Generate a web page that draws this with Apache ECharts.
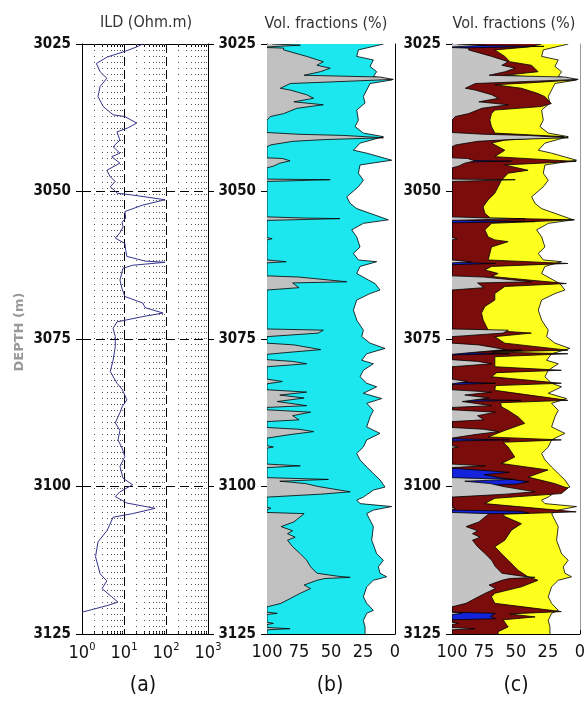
<!DOCTYPE html>
<html>
<head>
<meta charset="utf-8">
<script src="https://cdn.jsdelivr.net/npm/echarts@6/dist/echarts.min.js"></script>
<style>
html, body { margin: 0; padding: 0; background: #fff; }
#chart { width: 588px; height: 703px; }
</style>
</head>
<body>
<div id="chart"></div>
<script>
// depth axis (m)
const depthTicks = [3025, 3050, 3075, 3100, 3125];

// ILD log: [depth, ohm.m]
const ildCurve = [
  [3025.0, 28], [3025.5, 20], [3026.3, 10], [3027.2, 4], [3028.3, 2.2], [3029.7, 2.7], [3030.8, 3.9],
  [3032.2, 2.7], [3033.9, 2.4], [3035.6, 3.2], [3037.0, 5.5], [3037.3, 10.5], [3038.4, 20], [3039.2, 12.6],
  [3039.9, 6.8], [3041.3, 8], [3042.4, 5.5], [3043.5, 8], [3044.1, 5.1], [3045.2, 8], [3046.4, 3.9],
  [3047.5, 4.7], [3048.3, 6.2], [3049.2, 4.7], [3050.3, 7], [3050.6, 16], [3051.4, 95], [3052.3, 28],
  [3053.4, 10.5], [3054.5, 11], [3055.2, 9], [3056.0, 9.5], [3057.0, 8], [3057.9, 6.2], [3058.8, 10.5],
  [3060.0, 11], [3061.0, 11.7], [3061.8, 32], [3062.0, 95], [3062.5, 16], [3063.0, 9.5], [3065.0, 8],
  [3066.5, 9], [3067.8, 10.5], [3068.9, 28], [3069.7, 32], [3070.6, 85], [3071.2, 28], [3072.1, 6.8],
  [3073.2, 5.5], [3074.6, 6.2], [3076.3, 6.2], [3078.6, 5.5], [3080.5, 4.7], [3082.5, 6.8], [3083.5, 9],
  [3085.3, 11.7], [3086.5, 9], [3087.5, 8], [3089.2, 6.2], [3090.5, 8], [3092.1, 7.2], [3093.5, 9],
  [3094.9, 10.5], [3096.6, 8], [3098.6, 9.5], [3099.7, 16], [3100.9, 8], [3101.7, 6.2], [3102.8, 11.7],
  [3103.7, 55], [3104.6, 16], [3105.2, 5.5], [3107.4, 4], [3109.4, 2.4], [3111.9, 2.1], [3114.8, 2.7],
  [3116.0, 3.9], [3117.3, 3], [3119.6, 7.2], [3120.2, 3.9], [3121.3, 1]
];

// log decades and minor steps for the dotted background lines
const ildDecades = [1, 10, 100];
const ildSteps = [2, 3, 4, 5, 6, 7, 8, 9];

// volume fraction boundaries, [depth, % on the reversed axis]
// right edge of the matrix (porosity boundary)
const poroEdge = [
  [3025.0, 9], [3026.0, 28.6], [3027.1, 29.9], [3027.7, 16.9], [3028.8, 19.5], [3029.7, 14.3], [3030.5, 16.9],
  [3031.1, 2.6], [3031.7, 19.5], [3032.8, 22.1], [3033.9, 24.7], [3035.0, 23.4], [3036.2, 29.9], [3037.9, 28.6],
  [3039.0, 31.2], [3040.1, 24.7], [3040.7, 9.1], [3041.8, 27.3], [3043.0, 32.5], [3043.5, 22.1], [3044.7, 2.6],
  [3045.5, 27.3], [3046.9, 28.6], [3048.1, 24.7], [3049.2, 28.6], [3050.9, 37.7], [3052.0, 35.1], [3052.9, 29.9],
  [3053.7, 19.5], [3054.8, 5.2], [3055.4, 24.7], [3056.5, 33.8], [3057.7, 29.9], [3059.4, 27.3], [3060.5, 32.5],
  [3061.6, 28.6], [3061.9, 14.3], [3062.7, 27.3], [3063.9, 29.9], [3065.0, 20.8], [3065.6, 15.6], [3066.7, 11.7],
  [3067.3, 19.5], [3068.4, 29.9], [3070.1, 32.5], [3071.8, 29.9], [3073.5, 24.7], [3074.6, 26], [3075.7, 19.5],
  [3076.6, 7.8], [3077.5, 22.1], [3078.6, 26], [3079.2, 16.9], [3080.3, 24.7], [3081.4, 27.3], [3082.5, 22.1],
  [3083.1, 14.3], [3084.2, 24.7], [3085.1, 10.4], [3085.9, 22.1], [3087.1, 16.9], [3088.2, 19.5], [3089.9, 22.1],
  [3091.0, 11.7], [3092.1, 22.1], [3093.3, 24.7], [3094.4, 29.9], [3095.5, 27.3], [3096.7, 22.1], [3097.8, 16.9],
  [3098.9, 11.7], [3100.1, 7.8], [3100.6, 16.9], [3101.8, 24.7], [3102.3, 29.9], [3102.9, 27.3], [3103.4, 2.6],
  [3104.0, 16.9], [3104.6, 22.1], [3105.7, 19.5], [3106.8, 16.9], [3109.1, 18.2], [3111.4, 14.3], [3112.5, 9.1],
  [3113.6, 13], [3114.7, 11.7], [3115.3, 6.5], [3115.9, 16.9], [3117.0, 22.1], [3118.7, 24.7], [3119.8, 22.1],
  [3121.0, 16.9], [3121.5, 22.1], [3122.7, 24.7], [3123.8, 23.4], [3125.0, 23.4]
];

// right edge of the shale (grey) fraction
const grayEdge = [
  [3025.0, 96], [3025.2, 74], [3025.5, 100], [3025.6, 100], [3025.7, 87], [3026.0, 87], [3027.1, 69], [3028.0, 56],
  [3028.6, 61], [3029.1, 50.6], [3029.7, 58.4], [3030.3, 71], [3030.6, 11.7], [3031.0, 1.3], [3031.3, 35],
  [3031.7, 81.8], [3032.5, 89.6], [3032.8, 82], [3033.6, 69], [3034.2, 63.6], [3034.8, 79], [3035.3, 56],
  [3035.9, 76.6], [3036.8, 87], [3037.3, 97.4], [3037.9, 100], [3040.0, 100], [3040.3, 75], [3040.5, 40],
  [3040.9, 9], [3041.2, 55], [3041.5, 80], [3042.1, 97], [3042.4, 100], [3044.3, 100], [3044.4, 88], [3044.8, 82],
  [3045.2, 90], [3045.7, 95], [3046.0, 100], [3047.9, 100], [3048.0, 50.6], [3048.3, 100], [3054.3, 100],
  [3054.5, 70], [3054.6, 43], [3054.9, 100], [3057.8, 100], [3058.0, 96], [3058.2, 100], [3061.6, 100],
  [3061.9, 85], [3062.1, 100], [3064.3, 100], [3064.5, 75], [3065.3, 37.7], [3065.5, 80], [3066.3, 75],
  [3066.7, 100], [3073.3, 100], [3073.5, 56], [3074.0, 60], [3074.6, 100], [3075.7, 100], [3076.0, 79],
  [3076.8, 58], [3077.3, 85], [3077.6, 100], [3078.5, 100], [3078.8, 80], [3079.2, 69], [3079.7, 100],
  [3081.8, 100], [3082.2, 88], [3082.6, 100], [3083.6, 100], [3084.0, 69], [3084.5, 90], [3085.0, 71],
  [3085.6, 92], [3086.3, 69], [3086.6, 100], [3087.0, 100], [3087.4, 66], [3088.0, 80], [3088.7, 75],
  [3089.0, 100], [3090.0, 100], [3090.3, 75], [3090.7, 63.6], [3091.2, 82], [3091.8, 100], [3093.1, 100],
  [3093.3, 95], [3093.5, 100], [3096.2, 100], [3096.5, 74], [3096.8, 100], [3098.5, 100], [3098.8, 52],
  [3099.1, 90], [3099.5, 70], [3100.0, 60], [3100.9, 35], [3101.3, 58], [3101.8, 100], [3103.5, 100],
  [3103.7, 97], [3103.9, 100], [3104.4, 100], [3104.6, 71], [3106.0, 79], [3106.8, 89], [3107.5, 80],
  [3108.0, 84], [3108.6, 78], [3109.1, 84], [3110.2, 80], [3111.4, 74], [3112.5, 69], [3113.6, 66],
  [3114.7, 61], [3115.2, 45], [3115.4, 35], [3115.6, 55], [3115.9, 61], [3116.7, 71], [3117.3, 66],
  [3118.1, 74], [3119.0, 82], [3119.8, 89], [3120.4, 100], [3121.3, 100], [3121.5, 92], [3121.7, 100],
  [3123.0, 100], [3123.2, 95], [3123.4, 100], [3123.9, 100], [3124.1, 82], [3124.3, 100], [3125.0, 100]
];

// right edge of the dark red fraction (panel c)
const redEdge = [
  [3025.0, 30], [3025.5, 40], [3026.0, 66.5], [3027.1, 58.7], [3028.0, 54.8], [3028.6, 37.9], [3029.1, 35.3],
  [3029.7, 32.7], [3030.3, 58.7], [3030.8, 19.7], [3031.1, 4.2], [3031.6, 40.5], [3031.9, 66.5], [3032.5, 45.7],
  [3033.4, 32.7], [3033.9, 27.5], [3034.5, 24.9], [3035.1, 22.3], [3035.6, 30.1], [3036.2, 66.5], [3036.8, 69.1],
  [3037.9, 70.4], [3039.0, 69.1], [3040.1, 66.5], [3040.7, 12], [3041.3, 58.7], [3041.8, 69.1], [3043.0, 58.7],
  [3044.1, 66.5], [3044.9, 2.9], [3045.5, 58.7], [3046.4, 40.5], [3046.9, 56.1], [3048.1, 61.3], [3049.2, 63.9],
  [3050.3, 66.5], [3051.4, 71.7], [3052.6, 75.6], [3053.7, 74.3], [3054.5, 70], [3054.8, 4.2], [3055.4, 69],
  [3056.5, 74.3], [3057.7, 71.7], [3058.2, 66.5], [3058.5, 56.1], [3059.4, 69.1], [3060.5, 70.4], [3061.6, 71.7],
  [3062.2, 9.4], [3062.7, 69.1], [3063.3, 74.3], [3063.9, 63.9], [3064.4, 69.1], [3065.6, 10.6], [3066.1, 58.7],
  [3067.3, 66.5], [3068.4, 66.5], [3069.5, 74.3], [3070.6, 76.9], [3071.8, 75.6], [3073.5, 71.7], [3074.0, 37.9],
  [3074.6, 66.5], [3075.7, 58.7], [3076.9, 9.4], [3077.2, 69], [3077.5, 9.4], [3078.0, 66.5], [3079.7, 66.5],
  [3080.3, 14.5], [3080.7, 65], [3081.4, 69.1], [3082.5, 14.5], [3082.9, 66], [3083.7, 66.5], [3085.4, 9.4],
  [3085.8, 62], [3086.5, 61.3], [3087.1, 56.1], [3088.2, 48.3], [3089.3, 43.1], [3090.5, 58.7], [3091.6, 71.7],
  [3092.1, 14.5], [3092.5, 60], [3093.3, 56.1], [3095.0, 50.9], [3096.1, 61.3], [3097.2, 24.9], [3098.4, 40.5],
  [3099.5, 19.7], [3100.3, 9.4], [3101.2, 14.5], [3102.0, 66.5], [3102.9, 74.3], [3104.3, 2.9], [3104.7, 60],
  [3105.1, 58.7], [3106.3, 45.7], [3107.4, 53.5], [3109.1, 58.7], [3110.2, 66.5], [3111.4, 61.3], [3112.5, 56.1],
  [3114.2, 48.3], [3115.3, 40.5], [3115.9, 32.7], [3117.0, 45.7], [3118.1, 66.5], [3118.7, 69.1], [3119.8, 66.5],
  [3121.2, 14.5], [3121.6, 55], [3122.1, 35], [3122.6, 60], [3123.8, 56.1], [3124.6, 63.9], [3125.0, 63.9]
];

// right edge of the blue streaks (panel c), 100 = none
const blueEdge = [
  [3025.0, 100], [3025.2, 100], [3025.4, 28], [3025.7, 100], [3044.7, 100], [3044.85, 53], [3045.05, 100],
  [3054.9, 100], [3055.1, 35], [3055.3, 100], [3062.0, 100], [3062.2, 66], [3062.4, 100], [3076.7, 100],
  [3076.9, 45], [3077.1, 100], [3077.3, 100], [3077.5, 55], [3077.7, 100], [3082.3, 100], [3082.5, 66],
  [3082.7, 100], [3085.2, 100], [3085.4, 46], [3085.6, 100], [3091.9, 100], [3092.1, 55], [3092.3, 100],
  [3096.9, 100], [3097.2, 80], [3097.6, 55], [3098.0, 75], [3098.6, 60], [3099.2, 40], [3099.6, 50],
  [3100.0, 100], [3104.0, 100], [3104.2, 46], [3104.5, 40], [3104.7, 100], [3121.3, 100], [3121.5, 66],
  [3122.0, 70], [3122.4, 66], [3122.6, 100], [3125.0, 100]
];

const FONT = "'Liberation Sans Narrow', 'DejaVu Sans Condensed', sans-serif";

const chart = echarts.init(document.getElementById('chart'));

const ildMinor = [];
ildDecades.forEach(d => ildSteps.forEach(s => ildMinor.push(d * s)));

// depth axis for one track
const depthAxis = (g, pos, labels, color) => ({
  type: 'value', gridIndex: g, position: pos, inverse: true,
  min: depthTicks[0], max: depthTicks[depthTicks.length - 1], interval: 25,
  axisLine: { show: true, onZero: false, lineStyle: { color: color || '#000', width: 1 } },
  axisTick: { show: labels !== null, inside: false, length: 6, lineStyle: { color: '#000' } },
  axisLabel: {
    show: !!labels, margin: 11, fontFamily: FONT, fontSize: 15, fontWeight: 'bold', color: '#111',
    formatter: v => String(v)
  },
  splitLine: { show: false }
});

const fracAxis = g => ({
  type: 'value', gridIndex: g, position: 'bottom', inverse: true, min: 0, max: 100, interval: 25,
  axisLine: { onZero: false, lineStyle: { color: '#000' } },
  axisTick: { inside: true, length: 4, lineStyle: { color: '#000' } },
  axisLabel: { margin: 9, fontFamily: FONT, fontSize: 18, color: '#111' },
  splitLine: { show: false }
});

const supLabel = {
  formatter: v => '{b|10}{s|' + Math.round(Math.log10(v)) + '}',
  margin: 8,
  rich: {
    b: { fontFamily: FONT, fontSize: 18, color: '#111', lineHeight: 20, verticalAlign: 'bottom' },
    s: { fontFamily: FONT, fontSize: 11, color: '#111', lineHeight: 20, verticalAlign: 'top', padding: [0, 0, 8, 0] }
  }
};

// filled layer from 100 % to the given edge, with the edge outlined
const layer = (g, edge, fill) => ({
  type: 'custom', xAxisIndex: g, yAxisIndex: g === 1 ? 2 : g === 2 ? 4 : 0,
  data: edge.map(p => [p[1], p[0]]),
  clip: true, silent: true, animation: false,
  renderItem: (params, api) => {
    if (params.dataIndex !== 0) return null;
    const line = edge.map(p => api.coord([p[1], p[0]]));
    const poly = [api.coord([100, edge[0][0]])].concat(line, [api.coord([100, edge[edge.length - 1][0]])]);
    return {
      type: 'group',
      children: [
        { type: 'polygon', shape: { points: poly }, style: { fill: fill, stroke: null } },
        { type: 'polyline', shape: { points: line }, style: { fill: null, stroke: '#000', lineWidth: 0.8 } }
      ]
    };
  }
});

const option = {
  backgroundColor: '#fff',
  animation: false,
  grid: [
    { left: 82, top: 44, width: 126, height: 590 },
    { left: 267, top: 44, width: 128, height: 590 },
    { left: 452, top: 44, width: 128, height: 590 }
  ],
  xAxis: [
    {
      type: 'log', gridIndex: 0, position: 'bottom', min: 1, max: 1000, logBase: 10,
      axisLine: { onZero: false, lineStyle: { color: '#000' } },
      axisTick: { inside: true, length: 5, lineStyle: { color: '#000' } },
      minorTick: { show: true, splitNumber: 9, length: 3, lineStyle: { color: '#000' } },
      axisLabel: supLabel,
      splitLine: { show: true, lineStyle: { color: '#000', type: [9, 4], width: 1 } }
    },
    fracAxis(1),
    fracAxis(2),
    {
      type: 'log', gridIndex: 0, position: 'top', min: 1, max: 1000, logBase: 10,
      axisLine: { onZero: false, lineStyle: { color: '#000' } },
      axisTick: { inside: true, length: 5, lineStyle: { color: '#000' } },
      minorTick: { show: true, splitNumber: 9, length: 3, lineStyle: { color: '#000' } },
      axisLabel: { show: false },
      splitLine: { show: false }
    }
  ],
  yAxis: [
    Object.assign(depthAxis(0, 'left', true), {
      splitLine: { show: true, lineStyle: { color: '#000', type: [9, 5], width: 1 } }
    }),
    depthAxis(0, 'right', false),
    depthAxis(1, 'left', true),
    Object.assign(depthAxis(1, 'right', null), { axisTick: { show: false } }),
    depthAxis(2, 'left', true),
    Object.assign(depthAxis(2, 'right', null, '#999'), { axisTick: { show: false } })
  ],
  series: [
    {
      type: 'line', xAxisIndex: 0, yAxisIndex: 0,
      data: ildCurve.map(p => [p[1], p[0]]),
      showSymbol: false, silent: true,
      lineStyle: { color: '#34348c', width: 1 },
      markLine: {
        silent: true, symbol: ['none', 'none'], label: { show: false },
        lineStyle: { color: '#555', type: [1, 5], width: 1 },
        data: ildMinor.map(v => ({ xAxis: v }))
      }
    },
    // panel (b)
    layer(1, poroEdge, '#1ce6ee'),
    layer(1, grayEdge, '#c0c0c0'),
    // panel (c)
    layer(2, poroEdge, '#ffff1e'),
    layer(2, redEdge, '#7b0c0c'),
    layer(2, blueEdge, '#1424dc'),
    layer(2, grayEdge, '#c4c4c4')
  ],
  graphic: [
    { type: 'text', x: 146, y: 23, style: { text: 'ILD (Ohm.m)', font: '16px ' + FONT, fill: '#333', align: 'center', verticalAlign: 'middle' } },
    { type: 'text', x: 326, y: 24, style: { text: 'Vol. fractions (%)', font: '16px ' + FONT, fill: '#333', align: 'center', verticalAlign: 'middle' } },
    { type: 'text', x: 514, y: 24, style: { text: 'Vol. fractions (%)', font: '16px ' + FONT, fill: '#333', align: 'center', verticalAlign: 'middle' } },
    { type: 'text', x: 143, y: 686, style: { text: '(a)', font: '21px ' + FONT, fill: '#111', align: 'center', verticalAlign: 'middle' } },
    { type: 'text', x: 330, y: 686, style: { text: '(b)', font: '21px ' + FONT, fill: '#111', align: 'center', verticalAlign: 'middle' } },
    { type: 'text', x: 516, y: 686, style: { text: '(c)', font: '21px ' + FONT, fill: '#111', align: 'center', verticalAlign: 'middle' } },
    { type: 'text', x: 20, y: 332, rotation: Math.PI / 2, style: { text: 'DEPTH (m)', font: 'bold 13px ' + "'DejaVu Sans', sans-serif", fill: '#999', align: 'center', verticalAlign: 'middle' } }
  ]
};

chart.setOption(option);
window.addEventListener('resize', () => chart.resize());
</script>
</body>
</html>
